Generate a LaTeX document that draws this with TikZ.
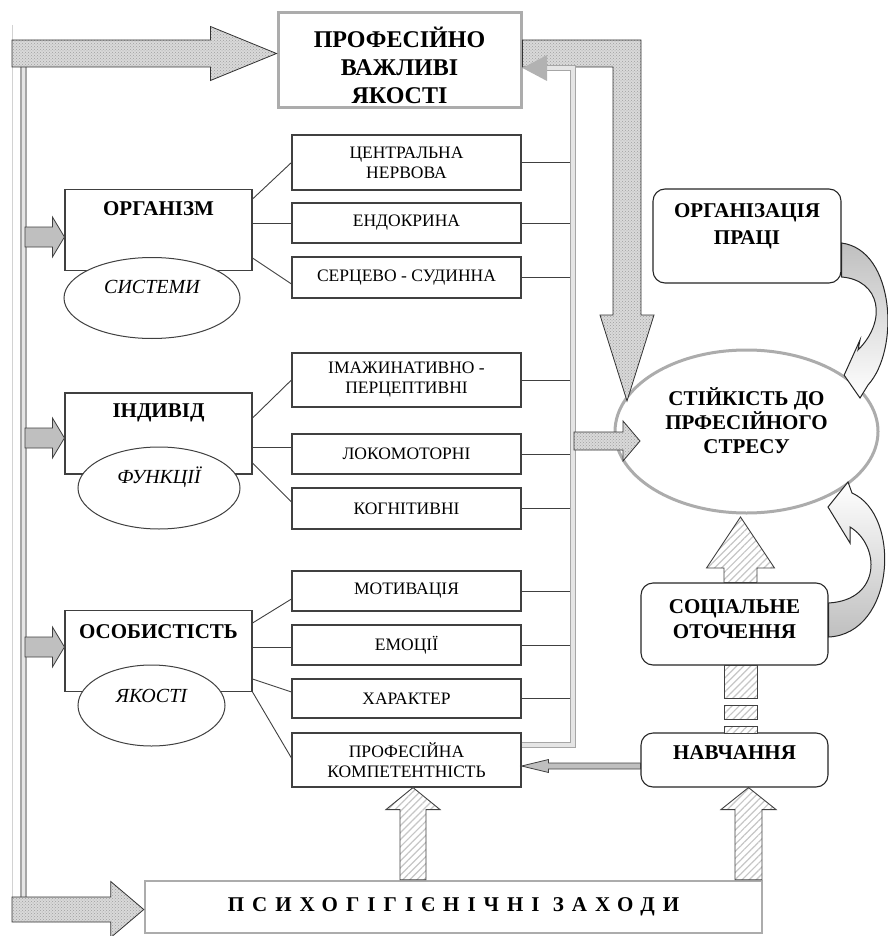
\documentclass[tikz,border=0pt]{standalone}
\usepackage{fontspec}
\setmainfont{Liberation Serif}
\usetikzlibrary{calc,shapes.geometric,patterns,patterns.meta}

\newcommand{\harr}[6]{\path[#1] let \p1=(#2), \p2=(#3) in
  (\x1,{\y1+(#4)}) -- ({\x2-(#6)},{\y1+(#4)}) -- ({\x2-(#6)},{\y1+(#5)}) -- (\x2,\y1)
  -- ({\x2-(#6)},{\y1-(#5)}) -- ({\x2-(#6)},{\y1-(#4)}) -- (\x1,{\y1-(#4)}) -- cycle;}
\newcommand{\varr}[6]{\path[#1] let \p1=(#2), \p2=(#3) in
  ({\x1-(#4)},\y1) -- ({\x1-(#4)},{\y2-(#6)}) -- ({\x1-(#5)},{\y2-(#6)}) -- (\x1,\y2)
  -- ({\x1+(#5)},{\y2-(#6)}) -- ({\x1+(#4)},{\y2-(#6)}) -- ({\x1+(#4)},\y1) -- cycle;}

\tikzset{
 topbox/.style={draw=gray!65, line width=3pt, fill=white, minimum width=243pt, minimum height=95pt},
 mainbox/.style={draw=black!75, line width=1.1pt, fill=white, minimum width=187pt, minimum height=81pt},
 subbox/.style={draw=black!75, line width=1.1pt, fill=white, minimum width=229pt, align=center, inner sep=0pt, font=\fontsize{17.5}{20}\selectfont},
 roundbox/.style={draw=black!85, line width=1.1pt, rounded corners=12pt, fill=white, minimum width=187pt},
 oval/.style={ellipse, draw=black!75, line width=1pt, fill=white, inner sep=0pt},
 ttl/.style={anchor=center, align=center, font=\fontsize{21}{25}\selectfont\bfseries},
 itl/.style={anchor=center, font=\fontsize{20}{24}\selectfont\itshape},
 link/.style={draw=black!75, line width=0.9pt},
 bus/.style={draw=gray!70, line width=1.3pt, double=gray!20, double distance=3.5pt},
 dotarrow/.style={draw=black!80, line width=0.8pt, preaction={fill=gray!30}, preaction={pattern=crosshatch dots, pattern color=gray!75}},
 hatcharrow/.style={draw=black!75, line width=0.9pt, preaction={fill=white}, preaction={pattern={Lines[angle=45,distance=5pt,line width=1.2pt]}, pattern color=gray!45}},
 sidearrow/.style={draw=black!75, line width=0.8pt, fill=gray!50},
 benddown/.style={draw=black!85, line width=1pt, top color=gray!50, bottom color=white},
 bendup/.style={draw=black!85, line width=1pt, top color=white, bottom color=gray!50}
}

\begin{document}
\begin{tikzpicture}[x=1pt,y=-1pt]
\useasboundingbox (0,0) rectangle (887,936);

\draw[gray!35, line width=1pt] (12,25) -- (12,897);
\draw[bus] (23.5,67) -- (23.5,897);

\node[topbox, label={[ttl, font=\fontsize{24}{28}\selectfont\bfseries, yshift=-4.5pt]center:ПРОФЕСІЙНО\\ВАЖЛИВІ\\ЯКОСТІ}] (prof) at (399.5,60.5) {};

\node[mainbox, label={[ttl, yshift=21pt]center:ОРГАНІЗМ}] (org) at (158.5,230) {};
\node[oval, minimum width=176pt, minimum height=81pt, label={[itl, yshift=11pt]center:СИСТЕМИ}] (syst) at (152,298) {};
\node[mainbox, label={[ttl, yshift=20.5pt]center:ІНДИВІД}] (ind) at (158.5,433.5) {};
\node[oval, minimum width=162pt, minimum height=82pt, label={[itl, yshift=11pt]center:ФУНКЦІЇ}] (funk) at (159,488) {};
\node[mainbox, label={[ttl, yshift=19pt]center:ОСОБИСТІСТЬ}] (osob) at (158.5,651) {};
\node[oval, minimum width=147pt, minimum height=81pt, label={[itl, yshift=9.5pt]center:ЯКОСТІ}] (yak) at (151.5,705.5) {};

\node[subbox, minimum height=55pt] (cnerv) at (406.5,162.5) {ЦЕНТРАЛЬНА\\НЕРВОВА};
\node[subbox, minimum height=40pt] (endo) at (406.5,223) {ЕНДОКРИНА};
\node[subbox, minimum height=41pt] (serc) at (406.5,277.5) {СЕРЦЕВО - СУДИННА};
\node[subbox, minimum height=54pt] (imag) at (406.5,380) {ІМАЖИНАТИВНО -\\ПЕРЦЕПТИВНІ};
\node[subbox, minimum height=40pt] (loko) at (406.5,454) {ЛОКОМОТОРНІ};
\node[subbox, minimum height=41pt] (kogn) at (406.5,508.5) {КОГНІТИВНІ};
\node[subbox, minimum height=40pt] (motiv) at (406.5,591) {МОТИВАЦІЯ};
\node[subbox, minimum height=40pt] (emoc) at (406.5,645) {ЕМОЦІЇ};
\node[subbox, minimum height=39pt] (khar) at (406.5,698.5) {ХАРАКТЕР};
\node[subbox, minimum height=54pt] (komp) at (406.5,760) {ПРОФЕСІЙНА\\КОМПЕТЕНТНІСТЬ};

\node[oval, draw=gray!65, line width=3pt, minimum width=263pt, minimum height=163pt, label={[ttl, font=\fontsize{21}{24}\selectfont\bfseries, yshift=10.5pt]center:СТІЙКІСТЬ ДО\\ПРФЕСІЙНОГО\\СТРЕСУ}] (stress) at (746.5,431.5) {};
\node[roundbox, minimum width=188pt, minimum height=94pt, label={[ttl, font=\fontsize{21}{27}\selectfont\bfseries, yshift=9.5pt]center:ОРГАНІЗАЦІЯ\\ПРАЦІ}] (orgpr) at (747,236) {};
\node[roundbox, minimum height=82pt, label={[ttl, yshift=4.5pt]center:СОЦІАЛЬНЕ\\ОТОЧЕННЯ}] (soc) at (734.5,624) {};
\node[roundbox, minimum height=54pt, label={[ttl, yshift=7pt]center:НАВЧАННЯ}] (nav) at (734.5,760) {};
\node[draw=gray!65, line width=2.5pt, fill=white, minimum width=617pt, minimum height=52pt,
  font=\fontsize{21}{24}\selectfont\bfseries\addfontfeatures{LetterSpace=38}] (psy) at (453.5,907) {ПСИХОГІГІЄНІЧНІ ЗАХОДИ};

\draw[link] (org.east |- 0,199) -- (cnerv.west);
\draw[link] (org.east |- endo.west) -- (endo.west);
\draw[link] (org.east |- 0,258) -- (serc.west |- 0,284);
\draw[link] (ind.east |- 0,418) -- (imag.west);
\draw[link] (ind.east |- 0,447) -- (loko.west |- 0,447);
\draw[link] (ind.east |- 0,463) -- (kogn.west |- 0,502);
\draw[link] (osob.east |- 0,623) -- (motiv.west |- 0,599);
\draw[link] (osob.east |- 0,647) -- (emoc.west |- 0,647);
\draw[link] (osob.east |- 0,679) -- (khar.west |- 0,692);
\draw[link] (osob.south east) -- (komp.west |- 0,758);
\foreach \n in {cnerv,endo,serc,imag,loko,kogn,motiv,emoc,khar}
  \draw[link] (\n.east) -- (\n.east -| 573,0);

\path[dotarrow] (prof.east |- 0,40) -- (641,40) -- (641,315) -- (654,315) -- (627,401)
  -- (600,315) -- (613,315) -- (613,67) -- (prof.east |- 0,67) -- cycle;
\draw[bus] (komp.east |- 0,745) -| (573,68) -- (547,68);
\path[fill=gray!60] (547,55) -- (prof.east |- 0,68) -- (547,81) -- cycle;

\harr{dotarrow}{12,53.5}{prof.west}{13.5pt}{27pt}{66pt}
\harr{dotarrow}{12,909.5}{psy.west}{12.5pt}{28pt}{33pt}
\harr{sidearrow}{25,237}{org.west}{10pt}{20pt}{12pt}
\harr{sidearrow}{25,438}{ind.west}{10pt}{20pt}{12pt}
\harr{sidearrow}{25,647}{osob.west}{10pt}{20pt}{12pt}
\harr{dotarrow}{574,441}{640,441}{9pt}{20pt}{17pt}
\harr{sidearrow}{nav.west |- 0,766}{komp.east}{3pt}{6.5pt}{-27pt}

\varr{hatcharrow}{psy.north -| 413,0}{komp.south}{13pt}{27pt}{22pt}
\varr{hatcharrow}{psy.north -| 748.5,0}{nav.south}{13.5pt}{27.5pt}{22pt}
\varr{hatcharrow}{soc.north -| 740.5,0}{740.5,517}{16.5pt}{34pt}{51pt}
\path[hatcharrow] (724,665) rectangle (757,698);
\path[hatcharrow] (724,705) rectangle (757,719);
\path[hatcharrow] (724,726) rectangle (757,733);

\path[benddown] (orgpr.east |- 0,243) .. controls (895,250) and (900,350) .. (868,385)
  -- (860,398) -- (stress.30) -- (860,340) -- (858,350)
  .. controls (888,320) and (880,280) .. (orgpr.east |- 0,277) -- cycle;
\path[bendup] (soc.east |- 0,637) .. controls (895,634) and (902,515) .. (852,493)
  -- (848,482) -- (828,507) -- (850,543) -- (850,527)
  .. controls (880,545) and (882,600) .. (soc.east |- 0,603) -- cycle;
\end{tikzpicture}
\end{document}
